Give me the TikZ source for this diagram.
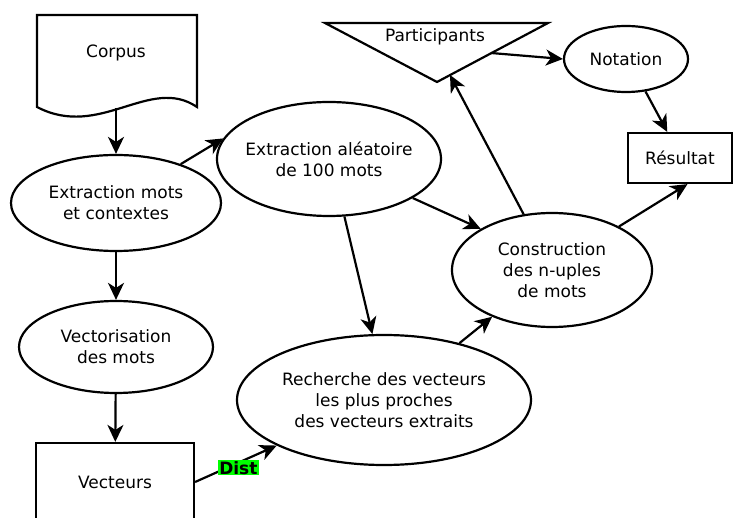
\documentclass[tikz,border=0pt]{standalone}
\usepackage{fontspec}
\setmainfont{DejaVu Sans}
\usetikzlibrary{shapes.geometric,arrows.meta}
\begin{document}
\begin{tikzpicture}[x=1pt,y=-1pt,
	every node/.style={font=\fontsize{17}{21}\selectfont},
	bulle/.style={draw,ellipse,line width=2.2pt,inner sep=0pt,align=center},
	boite/.style={draw,rectangle,line width=2.2pt,inner sep=0pt},
	fleche/.style={line width=2.2pt,-{Stealth[length=17pt,width=16pt,inset=5pt]}}]
	\clip (0,0) rectangle (734,518);
	% document Corpus et triangle Participants
	\draw[line width=2.2pt] (37,15) -- (197,15) -- (197,107) .. controls (150,75) and (100,140) .. (37,107) -- cycle;
	\node (corpus) at (116,53) {Corpus};
	\coordinate (corpbas) at (116,108);
	\draw[line width=2.2pt] (325,23) -- (548,23) -- (437,82) -- cycle;
	\node (part) at (435,37) {Participants};
	\coordinate (partA) at (450,75);
	\coordinate (partB) at (491,53);
	% etapes
	\node[bulle,minimum width=210pt,minimum height=96pt] (extmots) at (116,203) {Extraction mots\\et contextes};
	\node[bulle,minimum width=194pt,minimum height=92pt] (vect) at (116,347) {Vectorisation\\des mots};
	\node[boite,minimum width=158pt,minimum height=78pt] (vecteurs) at (115,482) {Vecteurs};
	\node[bulle,minimum width=224pt,minimum height=114pt,inner xsep=-7pt] (extalea) at (329,159) {Extraction aléatoire\\de 100 mots};
	\node[bulle,minimum width=294pt,minimum height=130pt] (rech) at (384,400) {Recherche des vecteurs\\les plus proches\\des vecteurs extraits};
	\node[bulle,minimum width=200pt,minimum height=114pt] (constr) at (552,270) {Construction\\des n-uples\\de mots};
	\node[bulle,minimum width=124pt,minimum height=66pt] (notation) at (626,59) {Notation};
	\node[boite,minimum width=104pt,minimum height=50pt] (resultat) at (680,158) {Résultat};
	\foreach \a/\b in {corpbas/extmots, extmots/vect, vect/vecteurs, extmots.31/extalea.169,
		extalea.-75/rech.100, extalea.-25/constr.150, rech.37/constr.-142, constr.117/partA,
		constr.33/resultat.-74, partB/notation.west, notation.-59/resultat.116}
		\draw[fleche] (\a) -- (\b);
	\draw[fleche] (vecteurs.east) -- node[pos=0.53,yshift=-5pt,fill=green,inner sep=1.2pt,font=\fontsize{17}{20}\selectfont\bfseries] (dist) {Dist} (rech.-157);
\end{tikzpicture}
\end{document}
